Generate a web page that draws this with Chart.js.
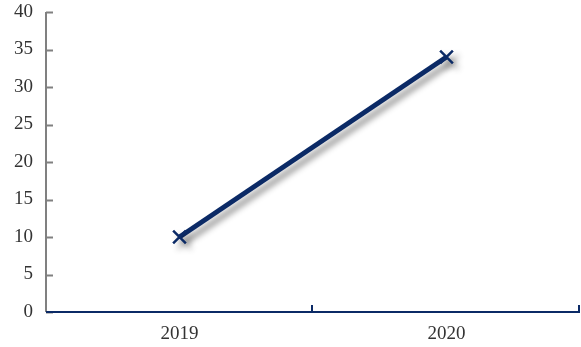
<!DOCTYPE html>
<html>
<head>
<meta charset="utf-8">
<script src="https://cdn.jsdelivr.net/npm/chart.js@4.4.0/dist/chart.umd.min.js"></script>
<style>
  html, body { margin: 0; padding: 0; background: #fff; overflow: hidden; }
  #wrap { width: 581px; height: 347px; }
</style>
</head>
<body>
<div id="wrap"><canvas id="chart"></canvas></div>
<script>
    "use strict";

    // Data
    var years = ["2019", "2020"];
    var values = [10, 34];
    var yTicks = [0, 5, 10, 15, 20, 25, 30, 35, 40];

    var navy = "#0b2a66";
    var labelFont = { family: "'Liberation Serif', 'DejaVu Serif', serif", size: 19 };

    // Soft drop shadow under the line
    var shadowPlugin = {
        id: "lineShadow",
        beforeDatasetDraw: function (chart) {
            var c = chart.ctx;
            c.save();
            c.shadowColor = "rgba(0, 0, 0, 0.45)";
            c.shadowBlur = 6;
            c.shadowOffsetX = 5;
            c.shadowOffsetY = 5;
        },
        afterDatasetDraw: function (chart) {
            chart.ctx.restore();
        }
    };

    // Axis lines with short inward tick marks
    var axesPlugin = {
        id: "innerAxes",
        beforeDatasetsDraw: function (chart) {
            var c = chart.ctx;
            var x = chart.scales.x, y = chart.scales.y;
            var area = chart.chartArea;
            c.save();
            c.lineCap = "butt";

            // y axis
            c.strokeStyle = "#808080";
            c.lineWidth = 2;
            c.beginPath();
            c.moveTo(area.left, area.top);
            c.lineTo(area.left, area.bottom);
            yTicks.forEach(function (t) {
                var py = Math.round(y.getPixelForValue(t)) + 0.5;
                c.moveTo(area.left, py);
                c.lineTo(area.left + 7, py);
            });
            c.stroke();

            // x axis, ticks on category boundaries
            var step = x.getPixelForValue(1) - x.getPixelForValue(0);
            c.strokeStyle = navy;
            c.beginPath();
            c.moveTo(area.left, area.bottom);
            c.lineTo(area.right, area.bottom);
            for (var i = 0; i < years.length; i++) {
                var px = Math.round(x.getPixelForValue(i) + step / 2) - 1;
                c.moveTo(px, area.bottom);
                c.lineTo(px, area.bottom - 7);
            }
            c.stroke();
            c.restore();
        }
    };

    var ctx = document.getElementById("chart").getContext("2d");
    var myChart = new Chart(ctx, {
        type: "line",
        data: {
            labels: years,
            datasets: [{
                data: values,
                borderColor: navy,
                backgroundColor: navy,
                borderWidth: 5,
                pointStyle: "crossRot",
                pointRadius: 9,
                pointBorderWidth: 2.5,
                pointBorderColor: navy,
                fill: false,
                tension: 0
            }]
        },
        options: {
            responsive: true,
            maintainAspectRatio: false,
            animation: false,
            layout: { autoPadding: false, padding: { left: 0, right: 1, top: 12, bottom: 0 } },
            plugins: {
                legend: { display: false },
                tooltip: { enabled: false }
            },
            scales: {
                x: {
                    offset: true,
                    border: { display: false },
                    grid: { display: false, drawTicks: false },
                    afterFit: function (scale) {
                        scale.height = 35;
                        scale.paddingLeft = 0;
                        scale.paddingRight = 0;
                    },
                    ticks: {
                        color: "#333",
                        padding: 11,
                        font: labelFont
                    }
                },
                y: {
                    min: 0,
                    max: 40,
                    border: { display: false },
                    grid: { display: false, drawTicks: false },
                    afterFit: function (scale) {
                        scale.width = 46;
                        scale.paddingTop = 0;
                        scale.paddingBottom = 0;
                    },
                    afterBuildTicks: function (scale) {
                        scale.ticks = yTicks.map(function (v) { return { value: v }; });
                    },
                    ticks: {
                        color: "#333",
                        padding: 13,
                        font: labelFont
                    }
                }
            }
        },
        plugins: [axesPlugin, shadowPlugin]
    });
</script>
</body>
</html>
